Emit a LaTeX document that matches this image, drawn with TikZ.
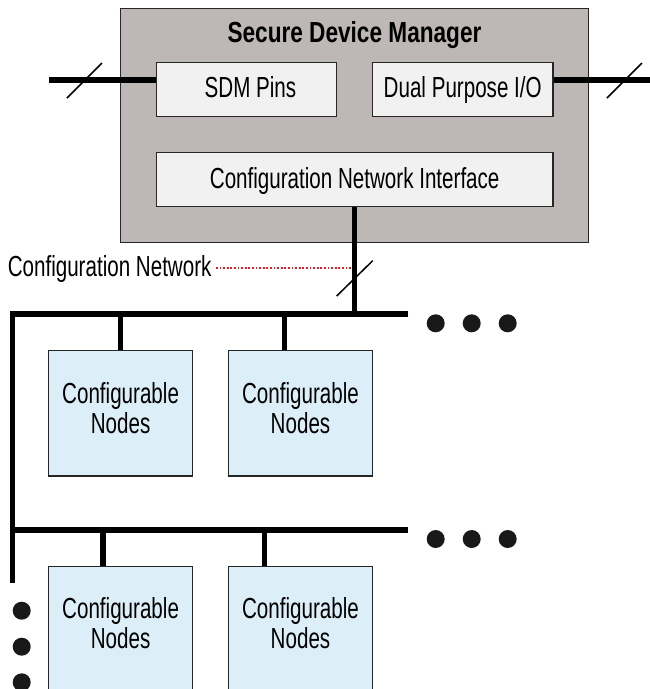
\documentclass[tikz,border=0pt]{standalone}
\usepackage{fontspec}
\setmainfont{Liberation Sans}[FakeStretch=0.71,BoldFeatures={FakeStretch=0.78}]
\usetikzlibrary{calc}
\definecolor{sdmgray}{RGB}{189,184,182}
\definecolor{innerfill}{RGB}{240,241,240}
\definecolor{nodeblue}{RGB}{220,239,249}
\definecolor{netred}{RGB}{232,28,40}
\begin{document}
\begin{tikzpicture}[x=1pt,y=-1pt,
  txt/.style={font=\fontsize{29}{29.5}\selectfont,inner sep=0pt,align=center},
  sdmbox/.style={draw=black!85,line width=1.6pt,fill=sdmgray},
  innerbox/.style={draw=black!85,line width=1.6pt,fill=innerfill,minimum height=54pt},
  cfgbox/.style={draw=black!85,line width=1.4pt,fill=nodeblue,minimum width=144.3pt},
  bus/.style={line width=5.2pt},
  slash/.style={line width=1.5pt},
  dotmark/.style={circle,fill=black!90,inner sep=0pt,minimum size=18pt}]
\useasboundingbox (0,0) rectangle (650,689);
\clip (0,0) rectangle (650,689);

% Secure Device Manager
\node[sdmbox,minimum width=468pt,minimum height=234pt] (sdm) at (354.5,125.5) {};
\node[txt,anchor=base,font=\fontsize{29}{29.5}\selectfont\bfseries] (title) at (354.5,42.7) {Secure Device Manager};
\node[innerbox,minimum width=180pt] (pins) at (246.5,89.5) {};
\node[txt,anchor=base] (pinst) at (250.5,97.3) {SDM Pins};
\node[innerbox,minimum width=180.7pt] (dual) at (462.7,89.5) {};
\node[txt,anchor=base] (dualt) at (462.7,97.3) {Dual Purpose I/O};
\node[innerbox,minimum width=396.7pt] (cni) at (354.7,179.3) {};
\node[txt,anchor=base] (cnit) at (354.7,188.3) {Configuration Network Interface};

% I/O lines
\coordinate (lin) at (49,80);
\coordinate (rout) at (652,80);
\draw[bus] (lin) -- (lin -| pins.west);
\draw[bus] (dual.east |- rout) -- (rout);
\draw[slash] (67,98) -- (102,63);
\draw[slash] (607,98) -- (642,63);

% configuration network trunk
\coordinate (b1r) at (408.3,314);
\coordinate (vbot) at (12.5,583.3);
\coordinate (b2l) at (12.5,530);
\coordinate (b2r) at (408.3,530);
\draw[bus] (cni.south) -- (cni.south |- 0,316.7);
\draw[slash] (336.7,296) -- (372.7,260.7);
\draw[bus,line join=miter] (b1r) -- (12.5,314) -- (vbot);
\draw[bus] (b2l) -- (b2r);

% label
\node[txt,anchor=base east] (cnlabel) at (211.7,276.7) {Configuration Network};
\coordinate (cnpoint) at (352.7,268.3);
\draw[netred,line width=2pt,dash pattern=on 1.8pt off 1.8pt] (216,268.3) -- (cnpoint);

% configurable nodes row 1
\node[cfgbox,minimum height=125.3pt] (cn1) at (120.6,413.3) {};
\node[cfgbox,minimum height=125.3pt] (cn2) at (300.5,413.3) {};
\node[txt] at ($(cn1.north)+(0,58)$) {Configurable\\Nodes};
\node[txt] at ($(cn2.north)+(0,58)$) {Configurable\\Nodes};
\coordinate (d1) at (120.6,314);
\coordinate (d2) at (284.4,314);
\draw[bus] (d1) -- (d1 |- cn1.north);
\draw[bus] (d2) -- (d2 |- cn2.north);

% configurable nodes row 2
\node[cfgbox,minimum height=140pt] (cn3) at (120.6,636.7) {};
\node[cfgbox,minimum height=140pt] (cn4) at (300.5,636.7) {};
\node[txt] at ($(cn3.north)+(0,57)$) {Configurable\\Nodes};
\node[txt] at ($(cn4.north)+(0,57)$) {Configurable\\Nodes};
\coordinate (d3) at (103,530);
\coordinate (d4) at (264.5,530);
\draw[bus] (d3) -- (d3 |- cn3.north);
\draw[bus] (d4) -- (d4 |- cn4.north);

% ellipsis dots
\foreach \x/\n in {435.7/a,471.7/b,507.7/c} {
  \node[dotmark] (r1\n) at (\x,323.3) {};
  \node[dotmark] (r2\n) at (\x,539) {};
}
\foreach \y/\n in {610.7/a,646.7/b,682.3/c} {
  \node[dotmark] (v\n) at (21.7,\y) {};
}
\end{tikzpicture}
\end{document}
